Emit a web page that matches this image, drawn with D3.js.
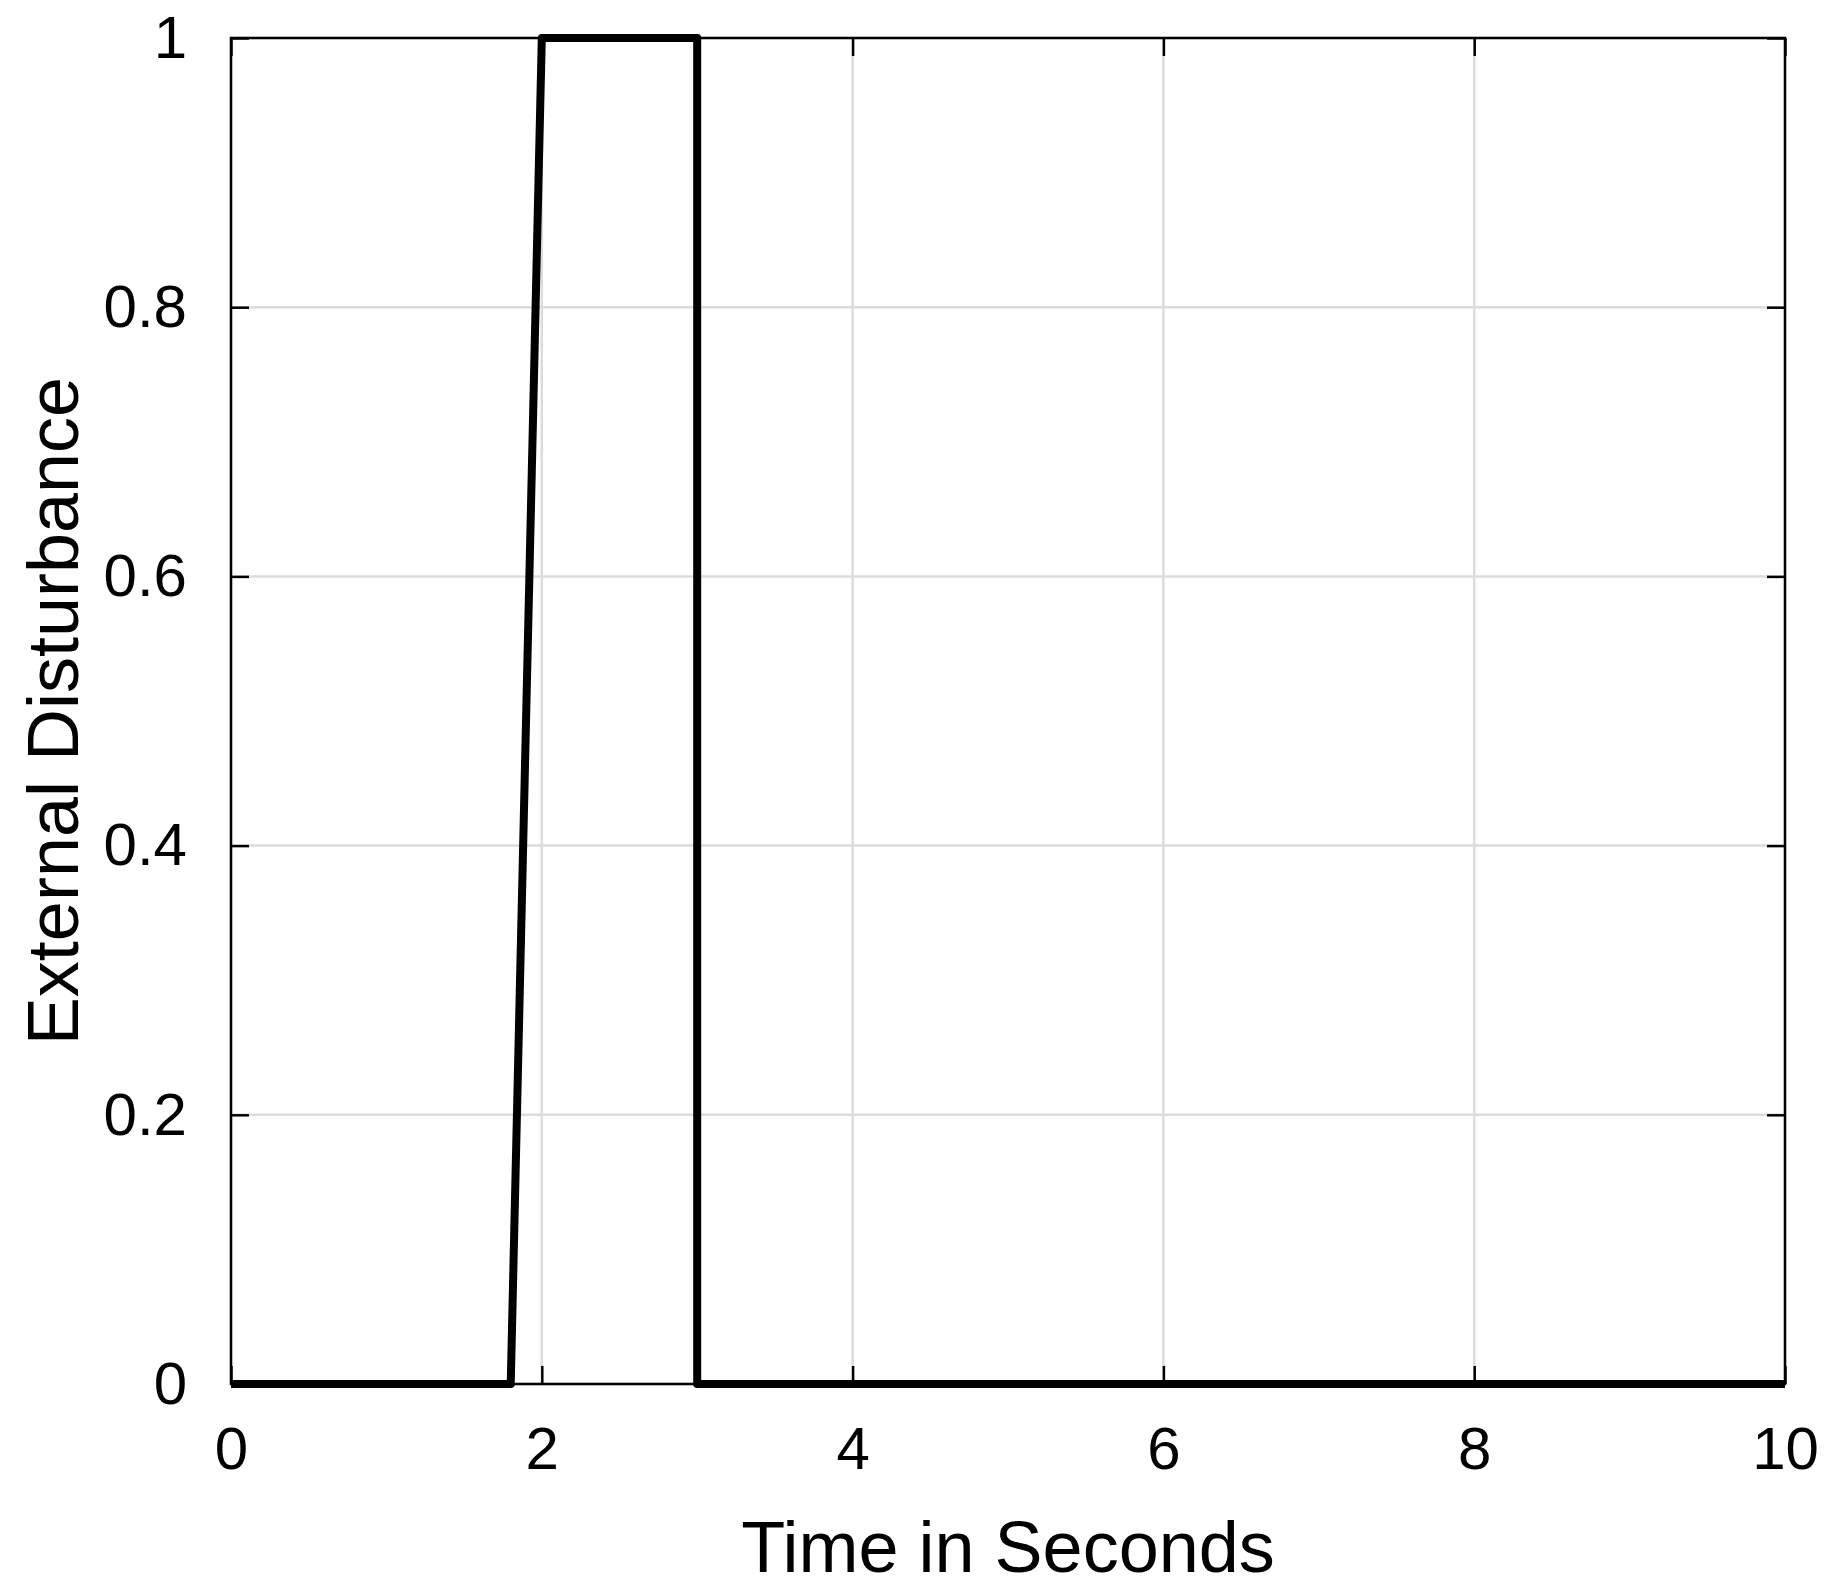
<!DOCTYPE html><html><head><meta charset="utf-8"><script src="https://cdn.jsdelivr.net/npm/d3@7"></script>
<style>body{margin:0;background:#fff}text{font-family:"Liberation Sans",Arial,sans-serif}</style></head><body>
<svg id="c" width="1837" height="1595"></svg>
<script>
const timeValues=[0,1.8,2,3,3,10];
const disturbanceValues=[0,0,1,1,0,0];
const xTicks=[0,2,4,6,8,10];
const yTicks=[0,0.2,0.4,0.6,0.8,1];
const svg=d3.select("#c");
const L=231,R=1785,T=38,B=1384;
const x=d3.scaleLinear().domain([0,10]).range([L,R]);
const y=d3.scaleLinear().domain([0,1]).range([B,T]);
const g=svg.append("g");
g.selectAll(".gx").data(xTicks).join("line").attr("x1",d=>x(d)).attr("x2",d=>x(d)).attr("y1",T).attr("y2",B).attr("stroke","#dcdcdc").attr("stroke-width",2.5);
g.selectAll(".gy").data(yTicks).join("line").attr("y1",d=>y(d)).attr("y2",d=>y(d)).attr("x1",L).attr("x2",R).attr("stroke","#dcdcdc").attr("stroke-width",2.5);
const tl=18;
svg.append("g").attr("transform",`translate(0,${B})`).call(d3.axisBottom(x).tickValues(xTicks).tickSizeInner(-tl).tickSizeOuter(0).tickPadding(42).tickFormat(d3.format("d")));
svg.append("g").attr("transform",`translate(0,${T})`).call(d3.axisTop(x).tickValues(xTicks).tickSizeInner(-tl).tickSizeOuter(0).tickFormat(""));
svg.append("g").attr("transform",`translate(${L},0)`).call(d3.axisLeft(y).tickValues(yTicks).tickSizeInner(-tl).tickSizeOuter(0).tickPadding(44).tickFormat(d=>d3.format("")(+d.toFixed(1))));
svg.append("g").attr("transform",`translate(${R},0)`).call(d3.axisRight(y).tickValues(yTicks).tickSizeInner(-tl).tickSizeOuter(0).tickFormat(""));
svg.selectAll(".tick line").attr("stroke","#000").attr("stroke-width",2.5);
svg.selectAll(".domain").remove();
svg.selectAll(".tick text").attr("font-size",60).attr("fill","#000").attr("font-family","Liberation Sans, Arial, sans-serif");
svg.append("rect").attr("x",L).attr("y",T).attr("width",R-L).attr("height",B-T).attr("fill","none").attr("stroke","#000").attr("stroke-width",2.5);
const pts=timeValues.map((t,i)=>[t,disturbanceValues[i]]);
svg.append("path").datum(pts).attr("d",d3.line().x(d=>x(d[0])).y(d=>y(d[1]))).attr("fill","none").attr("stroke","#000").attr("stroke-width",8).attr("stroke-linejoin","round");
svg.append("text").attr("x",(L+R)/2).attr("y",1572).attr("text-anchor","middle").attr("font-size",72).text("Time in Seconds");
svg.append("text").attr("transform",`translate(78,${(T+B)/2}) rotate(-90)`).attr("text-anchor","middle").attr("font-size",72).text("External Disturbance");
</script></body></html>
